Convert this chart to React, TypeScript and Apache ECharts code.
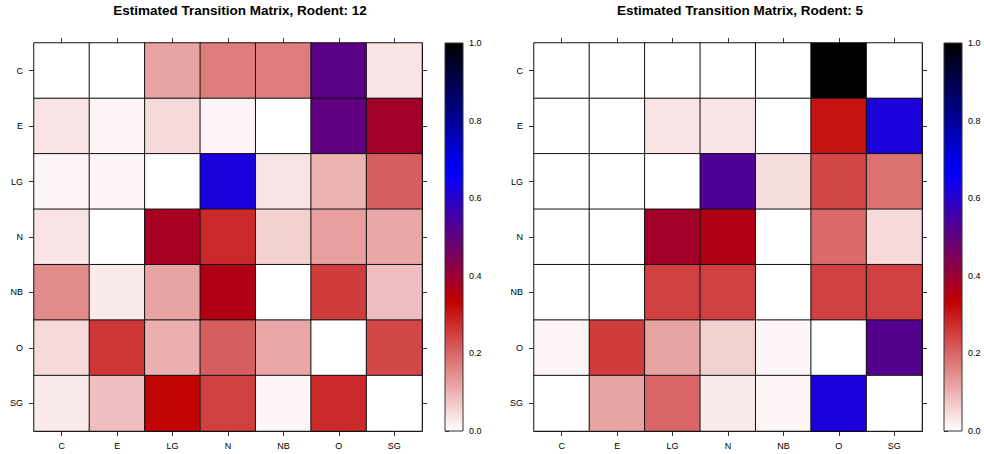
import React, { useEffect, useRef } from 'react';
import * as echarts from 'echarts';

const states = ['C', 'E', 'LG', 'N', 'NB', 'O', 'SG'];

// rows = from-state, columns = to-state
const rodent12: number[][] = [
  [0, 0, 0.12, 0.17, 0.17, 0.51, 0.035],
  [0.035, 0.013, 0.05, 0.013, 0, 0.5, 0.385],
  [0.013, 0.013, 0, 0.62, 0.035, 0.1, 0.21],
  [0.035, 0, 0.375, 0.28, 0.06, 0.125, 0.115],
  [0.15, 0.028, 0.12, 0.36, 0, 0.255, 0.085],
  [0.05, 0.265, 0.105, 0.21, 0.115, 0, 0.24],
  [0.028, 0.085, 0.33, 0.25, 0.013, 0.28, 0],
];

const rodent5: number[][] = [
  [0, 0, 0, 0, 0, 1, 0],
  [0, 0, 0.035, 0.035, 0, 0.31, 0.62],
  [0, 0, 0, 0.53, 0.045, 0.24, 0.185],
  [0, 0, 0.385, 0.36, 0, 0.195, 0.05],
  [0, 0, 0.25, 0.25, 0, 0.25, 0.25],
  [0.013, 0.255, 0.12, 0.06, 0.013, 0, 0.52],
  [0, 0.12, 0.2, 0.028, 0.013, 0.62, 0],
];

const titles = ['Estimated Transition Matrix, Rodent: 12', 'Estimated Transition Matrix, Rodent: 5'];
const paletteStops = ['#FFFFFF', '#C00000', '#0000FF', '#000000'];

const FONT = 'Liberation Sans, Arial, Helvetica, sans-serif';

function toCells(m: number[][]) {
  const out: number[][] = [];
  m.forEach((row, i) => row.forEach((v, j) => out.push([j, i, v])));
  return out;
}

export default function App() {
  const ref = useRef<HTMLDivElement>(null);
  useEffect(() => {
    if (!ref.current) return;
    const chart = echarts.init(ref.current, null, { renderer: 'svg' });

    const panels = [
      { left: 34, bar: 445, titleX: 240 },
      { left: 534, bar: 944, titleX: 740 },
    ];
    const top = 43;
    const h = 388;
    const w = 388;
    const barW = 18;

    const grids: any[] = [];
    const xAxes: any[] = [];
    const yAxes: any[] = [];
    const series: any[] = [];
    const visualMaps: any[] = [];
    const graphics: any[] = [];

    const lineStyle = { color: '#000', width: 1 };
    const tickStyle = { color: '#333', width: 1 };
    const labelStyle = { color: '#000', fontSize: 9, fontFamily: FONT };

    panels.forEach((p, k) => {
      const gi = grids.length;
      grids.push({ left: p.left, top, width: w, height: h });
      const bi = grids.length;
      grids.push({ left: p.bar, top, width: barW, height: h });

      const xb = xAxes.length;
      xAxes.push({
        type: 'category', data: states, gridIndex: gi, position: 'bottom',
        axisLine: { show: true, lineStyle }, axisTick: { show: true, alignWithLabel: true, length: 5, lineStyle: tickStyle },
        axisLabel: { ...labelStyle, margin: 10 }, splitLine: { show: false },
      });
      xAxes.push({
        type: 'category', data: states, gridIndex: gi, position: 'top',
        axisLine: { show: true, lineStyle }, axisTick: { show: true, alignWithLabel: true, length: 5, lineStyle: tickStyle },
        axisLabel: { show: false }, splitLine: { show: false },
      });
      xAxes.push({ type: 'value', gridIndex: bi, min: 0, max: 1, show: false });

      const yl = yAxes.length;
      yAxes.push({
        type: 'category', data: states, gridIndex: gi, position: 'left', inverse: true,
        axisLine: { show: true, lineStyle }, axisTick: { show: true, alignWithLabel: true, length: 5, lineStyle: tickStyle },
        axisLabel: { ...labelStyle, margin: 11 }, splitLine: { show: false },
      });
      yAxes.push({
        type: 'category', data: states, gridIndex: gi, position: 'right', inverse: true,
        axisLine: { show: true, lineStyle }, axisTick: { show: true, alignWithLabel: true, length: 5, lineStyle: tickStyle },
        axisLabel: { show: false }, splitLine: { show: false },
      });
      yAxes.push({
        type: 'value', gridIndex: bi, position: 'right', min: 0, max: 1, interval: 0.2,
        axisLine: { show: false }, axisTick: { show: true, length: 4, lineStyle: tickStyle },
        axisLabel: { ...labelStyle, margin: 6, formatter: (v: number) => v.toFixed(1) },
        splitLine: { show: false },
      });

      series.push({
        type: 'heatmap',
        xAxisIndex: xb,
        yAxisIndex: yl,
        data: toCells(k === 0 ? rodent12 : rodent5),
        itemStyle: { borderColor: '#111', borderWidth: 1 },
        emphasis: { disabled: true },
      });

      visualMaps.push({
        show: false, type: 'continuous', min: 0, max: 1, seriesIndex: k, dimension: 2,
        inRange: { color: paletteStops },
      });

      graphics.push({
        type: 'rect', z: 10,
        shape: { x: p.bar, y: top, width: barW, height: h },
        style: {
          fill: new echarts.graphic.LinearGradient(0, 1, 0, 0, paletteStops.map((c, i) => ({ offset: i / (paletteStops.length - 1), color: c }))),
          stroke: '#333', lineWidth: 1,
        },
      });
      graphics.push({
        type: 'text', z: 10, x: p.titleX, y: 3,
        style: {
          text: titles[k], fill: '#000', font: `bold 13.5px ${FONT}`,
          textAlign: 'center', align: 'center', textVerticalAlign: 'top', verticalAlign: 'top',
        },
      });
    });

    chart.setOption({
      animation: false,
      backgroundColor: '#fff',
      grid: grids,
      xAxis: xAxes,
      yAxis: yAxes,
      visualMap: visualMaps,
      series,
      graphic: graphics,
    });
    return () => chart.dispose();
  }, []);

  return <div ref={ref} style={{ position: 'fixed', left: 0, top: 0, width: 984, height: 454 }} />;
}
